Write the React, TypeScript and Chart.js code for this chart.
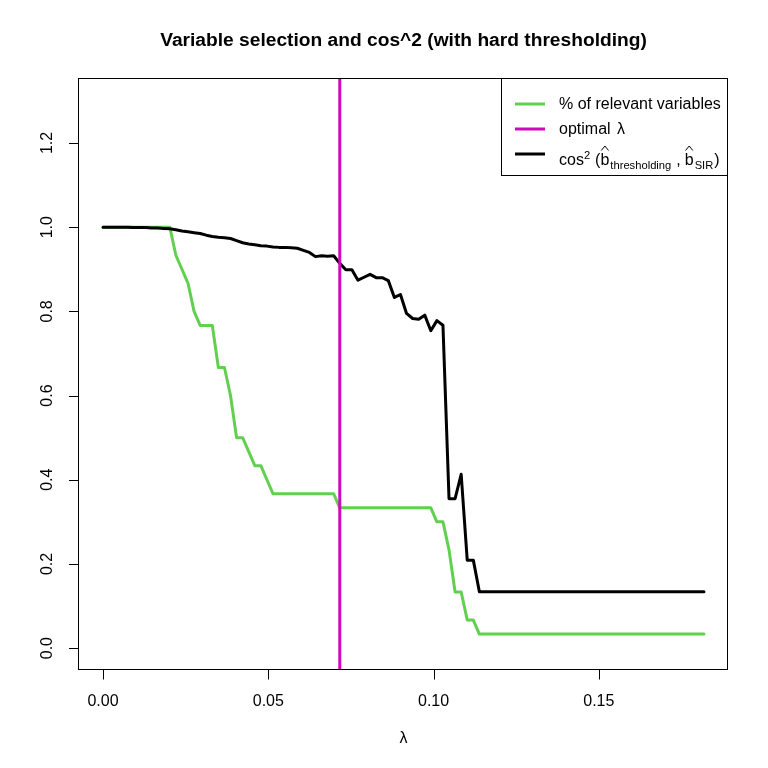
import React, { useEffect, useRef } from "react";
import { Chart, registerables } from "chart.js";

Chart.register(...registerables);

// ---------- data ----------
const TITLE = "Variable selection and cos^2 (with hard thresholding)";
const X_TITLE = "λ";
const LAMBDA_MAX = 0.1818;
const N_LAMBDA = 100;
// equally spaced lambda grid (x positions of the samples)
const lambdaGrid: number[] = Array.from({ length: N_LAMBDA }, (_, i) => (i * LAMBDA_MAX) / (N_LAMBDA - 1));
const OPTIMAL_INDEX = 39;
const OPTIMAL_LAMBDA = lambdaGrid[OPTIMAL_INDEX];

const relevantShare: number[] = [
  1, 1, 1, 1, 1, 1, 1, 1, 1, 1, 1, 1,
  0.9333, 0.9, 0.8667, 0.8, 0.7667, 0.7667, 0.7667, 0.6667, 0.6667, 0.6, 0.5, 0.5,
  0.4667, 0.4333, 0.4333, 0.4,
  0.3667, 0.3667, 0.3667, 0.3667, 0.3667, 0.3667, 0.3667, 0.3667, 0.3667, 0.3667, 0.3667,
  0.3333, 0.3333, 0.3333, 0.3333, 0.3333, 0.3333, 0.3333, 0.3333,
  0.3333, 0.3333, 0.3333, 0.3333, 0.3333, 0.3333, 0.3333, 0.3333,
  0.3, 0.3, 0.2333, 0.1333, 0.1333, 0.0667, 0.0667,
  0.0333, 0.0333, 0.0333, 0.0333, 0.0333, 0.0333, 0.0333, 0.0333, 0.0333, 0.0333,
  0.0333, 0.0333, 0.0333, 0.0333, 0.0333, 0.0333, 0.0333, 0.0333, 0.0333, 0.0333,
  0.0333, 0.0333, 0.0333, 0.0333, 0.0333, 0.0333, 0.0333, 0.0333, 0.0333, 0.0333,
  0.0333, 0.0333, 0.0333, 0.0333, 0.0333, 0.0333, 0.0333, 0.0333,
];

const cos2Values: number[] = [
  1.0, 1.0, 1.0, 1.0, 1.0, 0.999, 0.999, 0.999,
  0.998, 0.998, 0.997, 0.996, 0.994, 0.991, 0.989, 0.987,
  0.985, 0.981, 0.978, 0.976, 0.975, 0.973, 0.968, 0.963,
  0.96, 0.958, 0.956, 0.955, 0.953, 0.952, 0.952, 0.951,
  0.95, 0.945, 0.94, 0.93, 0.932, 0.931, 0.932, 0.914,
  0.899, 0.899, 0.874, 0.881, 0.888, 0.88, 0.88, 0.873,
  0.833, 0.84, 0.795, 0.783, 0.781, 0.791, 0.754, 0.778,
  0.767, 0.355, 0.355, 0.413, 0.209, 0.209, 0.134,
  0.134, 0.134, 0.134, 0.134, 0.134, 0.134, 0.134, 0.134, 0.134, 0.134,
  0.134, 0.134, 0.134, 0.134, 0.134, 0.134, 0.134, 0.134, 0.134, 0.134,
  0.134, 0.134, 0.134, 0.134, 0.134, 0.134, 0.134, 0.134, 0.134, 0.134,
  0.134, 0.134, 0.134, 0.134, 0.134, 0.134, 0.134,
];

const xTicks = [0, 0.05, 0.1, 0.15];
const xTickLabels = ["0.00", "0.05", "0.10", "0.15"];
const yTicks = [0, 0.2, 0.4, 0.6, 0.8, 1.0, 1.2];
const yTickLabels = ["0.0", "0.2", "0.4", "0.6", "0.8", "1.0", "1.2"];
const Y_LIM = [0, 1.3];

const legendLabels = ["% of relevant variables", "optimal", "cos"];

// ---------- styles ----------
const GREEN = "#61D04F";
const MAGENTA = "#CD0BBC";
const BLACK = "#000000";
const FONT = "'Liberation Sans', Arial, Helvetica, sans-serif";

const rPlugin = {
  id: "rStyle",
  afterDatasetsDraw(chart: any) {
    const { ctx, chartArea: a, scales } = chart;
    const xs = scales.x;
    const ys = scales.y;
    ctx.save();
    ctx.strokeStyle = "#000";
    ctx.fillStyle = "#000";
    ctx.lineWidth = 1;

    // plot box
    ctx.strokeRect(a.left - 0.5, a.top - 0.5, a.right - a.left, a.bottom - a.top);

    // x axis ticks and labels
    ctx.font = `16px ${FONT}`;
    ctx.textAlign = "center";
    ctx.textBaseline = "alphabetic";
    xTicks.forEach((v, k) => {
      const p = xs.getPixelForValue(v);
      const pc = Math.round(p) + 0.5;
      ctx.beginPath();
      ctx.moveTo(pc, a.bottom - 0.5);
      ctx.lineTo(pc, a.bottom + 9.5);
      ctx.stroke();
      ctx.fillText(xTickLabels[k], p, a.bottom + 36);
    });

    // y axis ticks and labels
    yTicks.forEach((v, k) => {
      const p = ys.getPixelForValue(v);
      const pc = Math.round(p) + 0.5;
      ctx.beginPath();
      ctx.moveTo(a.left - 0.5, pc);
      ctx.lineTo(a.left - 10, pc);
      ctx.stroke();
      ctx.save();
      ctx.translate(a.left - 27, p);
      ctx.rotate(-Math.PI / 2);
      ctx.fillText(yTickLabels[k], 0, 0);
      ctx.restore();
    });

    // title
    const cx = (a.left + a.right) / 2;
    ctx.font = `bold 19.2px ${FONT}`;
    ctx.fillText(TITLE, cx, 46);

    // x title
    ctx.font = `16px ${FONT}`;
    ctx.fillText(X_TITLE, cx, 743);

    // legend
    const bx = 501;
    const by = a.top;
    const bw = a.right - bx;
    const bh = 97;
    ctx.strokeRect(bx + 0.5, by - 0.5, bw - 1, bh);
    const rows = [by + 25, by + 50, by + 75];
    const colors = [GREEN, MAGENTA, BLACK];
    rows.forEach((y, k) => {
      ctx.strokeStyle = colors[k];
      ctx.lineWidth = 3;
      ctx.beginPath();
      ctx.moveTo(515, y);
      ctx.lineTo(545, y);
      ctx.stroke();
    });
    ctx.lineWidth = 1;
    ctx.strokeStyle = "#000";
    ctx.textAlign = "left";
    const tx = 559;
    ctx.font = `16px ${FONT}`;
    ctx.fillText(legendLabels[0], tx, rows[0] + 5);
    ctx.fillText(legendLabels[1], tx, rows[1] + 5);
    const wOpt = ctx.measureText(legendLabels[1] + " ").width;
    ctx.fillText("λ", tx + wOpt + 2, rows[1] + 5);

    // cos^2 (b^_thresholding , b^_SIR)
    const base = rows[2] + 11;
    const subSize = 11.2;
    let x = tx;
    ctx.font = `16px ${FONT}`;
    ctx.fillText(legendLabels[2], x, base);
    x += ctx.measureText(legendLabels[2]).width;
    ctx.font = `${subSize}px ${FONT}`;
    ctx.fillText("2", x, base - 6);
    x += ctx.measureText("2").width + 5;
    ctx.font = `16px ${FONT}`;
    ctx.fillText("(", x, base);
    x += ctx.measureText("(").width;
    const drawHatB = () => {
      ctx.font = `16px ${FONT}`;
      const w = ctx.measureText("b").width;
      ctx.fillText("b", x, base);
      ctx.beginPath();
      ctx.moveTo(x + 0.8, base - 14.5);
      ctx.lineTo(x + w / 2, base - 19);
      ctx.lineTo(x + w - 0.8, base - 14.5);
      ctx.stroke();
      x += w + 1;
    };
    drawHatB();
    ctx.font = `${subSize}px ${FONT}`;
    ctx.fillText("thresholding", x, base + 3.5);
    x += ctx.measureText("thresholding").width + 5;
    ctx.font = `16px ${FONT}`;
    ctx.fillText(",", x, base);
    x += ctx.measureText(",").width + 4;
    drawHatB();
    ctx.font = `${subSize}px ${FONT}`;
    ctx.fillText("SIR", x, base + 3.5);
    x += ctx.measureText("SIR").width + 1;
    ctx.font = `16px ${FONT}`;
    ctx.fillText(")", x, base);

    ctx.restore();
  },
};

export default function App() {
  const ref = useRef<HTMLCanvasElement | null>(null);

  useEffect(() => {
    if (!ref.current) return;
    const xRange = LAMBDA_MAX;
    const yRange = Y_LIM[1] - Y_LIM[0];
    const chart = new Chart(ref.current, {
      type: "line",
      data: {
        datasets: [
          {
            label: "optimal λ",
            data: [
              { x: OPTIMAL_LAMBDA, y: Y_LIM[0] - 0.2 },
              { x: OPTIMAL_LAMBDA, y: Y_LIM[1] + 0.2 },
            ],
            borderColor: MAGENTA,
            borderWidth: 3,
            pointRadius: 0,
          },
          {
            label: "cos2",
            data: lambdaGrid.map((l, i) => ({ x: l, y: cos2Values[i] })),
            borderColor: BLACK,
            borderWidth: 3,
            pointRadius: 0,
            borderJoinStyle: "round",
            borderCapStyle: "round",
          },
          {
            label: "% of relevant variables",
            data: lambdaGrid.map((l, i) => ({ x: l, y: relevantShare[i] })),
            borderColor: GREEN,
            borderWidth: 3,
            pointRadius: 0,
            borderJoinStyle: "round",
            borderCapStyle: "round",
          },
        ],
      },
      options: {
        responsive: false,
        animation: false,
        devicePixelRatio: 1,
        layout: { padding: { left: 79, right: 40, top: 79, bottom: 98 } },
        scales: {
          x: {
            type: "linear",
            display: false,
            min: -0.04 * xRange,
            max: LAMBDA_MAX + 0.04 * xRange,
          },
          y: {
            type: "linear",
            display: false,
            min: Y_LIM[0] - 0.04 * yRange,
            max: Y_LIM[1] + 0.04 * yRange,
          },
        },
        plugins: {
          legend: { display: false },
          title: { display: false },
          tooltip: { enabled: false },
        },
        elements: { line: { tension: 0 } },
      },
      plugins: [rPlugin],
    } as any);
    return () => chart.destroy();
  }, []);

  return (
    <div style={{ position: "absolute", left: 0, top: 0, width: 768, height: 768, background: "#fff" }}>
      <canvas ref={ref} width={768} height={768} />
    </div>
  );
}
